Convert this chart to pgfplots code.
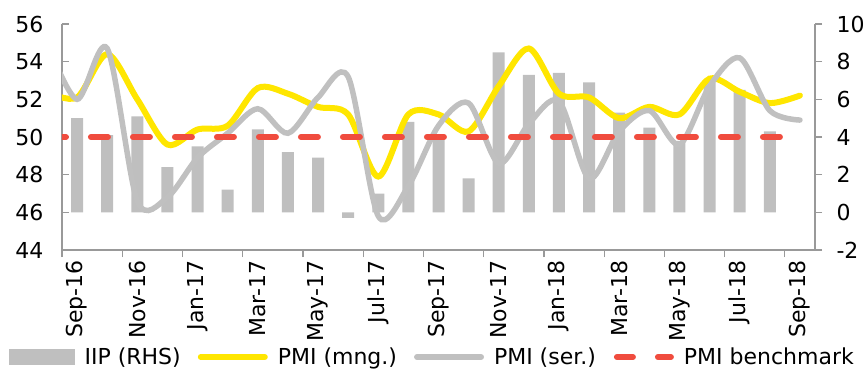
\documentclass[border=0pt]{standalone}
\usepackage{fontspec}
\setmainfont{DejaVu Sans}
\usepackage{pgfplots}
\pgfplotsset{compat=1.18}
\definecolor{barg}{HTML}{BFBFBF}
\definecolor{eyy}{HTML}{FFE600}
\definecolor{lineg}{HTML}{C0C0C0}
\definecolor{eyr}{HTML}{F04C3E}
\definecolor{axg}{HTML}{999999}
\begin{document}
\begin{tikzpicture}
\pgfplotsset{
  base/.style={
    scale only axis, width=753pt, height=226pt,
    xmin=-0.5, xmax=24.5,
    axis line style={axg, line width=1.2pt, -},
    tick style={axg, line width=1.2pt},
    major tick length=7pt, minor tick length=7pt,
    tick label style={font=\fontsize{22}{26}\selectfont, text=black},
    /pgf/number format/assume math mode=true,
  }
}
\useasboundingbox (-62pt,-126pt) rectangle (804pt,250pt);
\begin{axis}[base,
  ymin=-2, ymax=10, ytick={-2,0,...,10},
  axis y line*=right, axis x line=none, xtick=\empty,
  ytick align=outside,
  yticklabel style={anchor=west, xshift=11pt},
  ybar, bar width=12pt,
]
\addplot[fill=barg, draw=none] coordinates {
(0,5.0) (1,4.1) (2,5.1) (3,2.4) (4,3.5) (5,1.2) (6,4.4) (7,3.2) (8,2.9) (9,-0.3)
(10,1.0) (11,4.8) (12,4.0) (13,1.8) (14,8.5) (15,7.3) (16,7.4) (17,6.9) (18,5.3) (19,4.5)
(20,3.8) (21,6.9) (22,6.5) (23,4.3)};
\end{axis}
\begin{axis}[base, ymin=44, ymax=56, ytick={44,46,...,56},
  axis y line*=left, axis x line*=bottom,
  ytick align=inside, xtick align=outside,
  xtick={0,2,...,24},
  xticklabels={Sep-16,Nov-16,Jan-17,Mar-17,May-17,Jul-17,Sep-17,Nov-17,Jan-18,Mar-18,May-18,Jul-18,Sep-18},
  major x tick style={draw=none},
  minor xtick={-0.5,1.5,...,23.5},
  xticklabel style={rotate=90, anchor=east},
  yticklabel style={xshift=-15pt},
  legend columns=4,
  legend cell align=left,
  legend style={draw=none, fill=none, at={(0,0)}, anchor=west, xshift=-53pt, yshift=-107pt,
    inner sep=0pt, font=\fontsize{22}{26}\selectfont,
    /tikz/every odd column/.append style={column sep=8pt},
    /tikz/every even column/.append style={column sep=15pt}},
]
\addlegendimage{legend image code/.code={\fill[barg] (0pt,-7.5pt) rectangle (65pt,7.5pt);}}
\addlegendentry{IIP (RHS)}
\addplot[eyy, line width=6pt, smooth, tension=0.5, line cap=round,
  legend image code/.code={\draw[eyy, line width=6pt, line cap=round] (3pt,0pt) -- (67pt,0pt);}]
coordinates {
(-1,52.4) (0,52.1) (1,54.4) (2,52.0) (3,49.6) (4,50.4) (5,50.6) (6,52.6) (7,52.3) (8,51.6)
(9,51.2) (10,47.9) (11,51.2) (12,51.2) (13,50.3) (14,52.7) (15,54.7) (16,52.3) (17,52.1)
(18,51.0) (19,51.6) (20,51.2) (21,53.1) (22,52.4) (23,51.8) (24,52.2)};
\addlegendentry{PMI (mng.)}
\addplot[lineg, line width=5.5pt, smooth, tension=0.5, line cap=round,
  legend image code/.code={\draw[lineg, line width=6pt, line cap=round] (3pt,0pt) -- (67pt,0pt);}]
coordinates {
(-1,55.0) (0,52.0) (1,54.7) (2,46.6) (3,46.8) (4,48.9) (5,50.2) (6,51.5) (7,50.2) (8,52.1)
(9,53.2) (10,45.8) (11,47.4) (12,50.6) (13,51.8) (14,48.6) (15,50.7) (16,51.9) (17,47.8)
(18,50.3) (19,51.4) (20,49.6) (21,52.7) (22,54.2) (23,51.4) (24,50.9)};
\addlegendentry{PMI (ser.)}
\addplot[eyr, line width=6pt, line cap=round, dash pattern=on 17pt off 25pt, dash phase=40pt,
  legend image code/.code={\draw[eyr, line width=6pt, line cap=round, dash pattern=on 16pt off 25pt] (3pt,0pt) -- (58pt,0pt);}]
coordinates {(-1,50) (24,50)};
\addlegendentry{PMI benchmark}
\end{axis}
\end{tikzpicture}
\end{document}
